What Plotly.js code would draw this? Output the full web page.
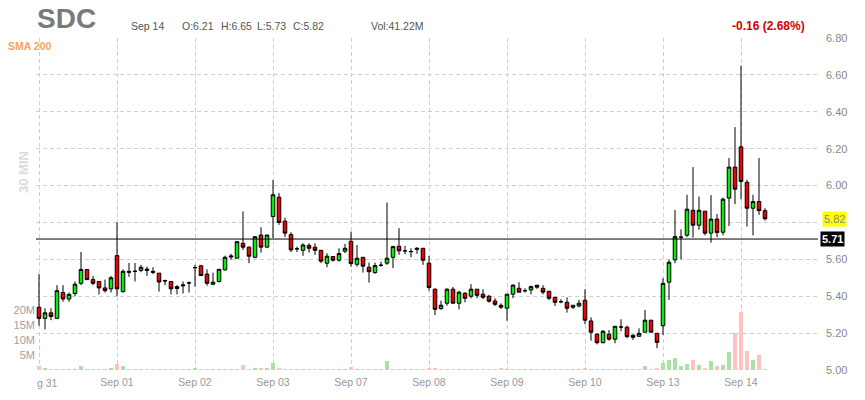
<!DOCTYPE html>
<html>
<head>
<meta charset="utf-8">
<script src="https://cdn.plot.ly/plotly-3.0.1.min.js"></script>
<style>
  html, body { margin: 0; padding: 0; background: #ffffff; }
  #chart { width: 865px; height: 400px; }
</style>
</head>
<body>
<div id="chart"></div>
<script>
// ---------------- DATA ----------------
const ticker = 'SDC';
const dayLabels = ['Aug 31','Sep 01','Sep 02','Sep 03','Sep 07','Sep 08','Sep 09','Sep 10','Sep 13','Sep 14'];
const barsPerDay = 13;

const opens = [
  5.34,5.28,5.31,5.28,5.42,5.385,5.415,5.47,5.545,5.49,5.48,5.445,5.44,
  5.62,5.425,5.535,5.535,5.54,5.547,5.535,5.525,5.485,5.48,5.442,5.462,5.472,
  5.555,5.565,5.52,5.465,5.48,5.543,5.612,5.606,5.687,5.666,5.611,5.732,5.666,
  5.832,5.937,5.807,5.734,5.657,5.649,5.676,5.666,5.649,5.579,5.615,5.595,5.644,
  5.698,5.573,5.611,5.557,5.528,5.568,5.579,5.611,5.671,5.646,5.642,5.66,5.66,
  5.579,5.438,5.333,5.362,5.438,5.362,5.416,5.40,5.438,5.411,5.40,5.374,5.351,
  5.335,5.411,5.443,5.43,5.434,5.46,5.443,5.427,5.394,5.37,5.367,5.34,5.347,
  5.378,5.266,5.194,5.148,5.194,5.167,5.233,5.232,5.188,5.183,5.205,5.27,5.199,
  5.24,5.476,5.597,5.72,5.731,5.866,5.785,5.861,5.742,5.818,5.747,5.932,6.10,
  6.21,6.018,5.877,5.913,5.864
];
const highs = [
  5.52,5.335,5.335,5.46,5.46,5.42,5.48,5.64,5.545,5.51,5.48,5.49,5.51,
  5.80,5.545,5.58,5.58,5.57,5.56,5.557,5.525,5.49,5.48,5.46,5.48,5.48,
  5.57,5.57,5.546,5.528,5.546,5.62,5.63,5.696,5.86,5.67,5.723,5.774,5.732,
  6.03,5.96,5.826,5.747,5.669,5.687,5.687,5.687,5.649,5.633,5.615,5.66,5.684,
  5.75,5.678,5.611,5.582,5.582,5.588,5.908,5.673,5.769,5.673,5.66,5.666,5.66,
  5.619,5.443,5.376,5.443,5.45,5.429,5.422,5.465,5.438,5.438,5.407,5.389,5.362,
  5.411,5.465,5.476,5.443,5.457,5.46,5.46,5.427,5.394,5.384,5.394,5.351,5.38,
  5.438,5.286,5.199,5.217,5.217,5.237,5.275,5.24,5.194,5.226,5.326,5.27,5.199,
  5.498,5.597,5.868,5.763,5.95,6.10,5.94,5.861,5.948,5.846,5.935,6.149,6.317,
  6.65,6.031,5.95,6.149,5.877
];
const lows = [
  5.24,5.22,5.27,5.28,5.37,5.37,5.40,5.46,5.49,5.46,5.41,5.42,5.42,
  5.40,5.42,5.505,5.48,5.53,5.51,5.52,5.425,5.46,5.41,5.41,5.415,5.42,
  5.452,5.512,5.457,5.46,5.474,5.539,5.597,5.606,5.651,5.579,5.606,5.636,5.666,
  5.715,5.787,5.72,5.639,5.639,5.619,5.636,5.624,5.579,5.557,5.588,5.588,5.633,
  5.56,5.56,5.528,5.474,5.522,5.56,5.57,5.552,5.624,5.628,5.611,5.63,5.57,
  5.43,5.298,5.326,5.349,5.362,5.329,5.367,5.389,5.389,5.384,5.365,5.347,5.331,
  5.267,5.389,5.422,5.42,5.41,5.44,5.41,5.379,5.347,5.362,5.311,5.33,5.34,
  5.248,5.159,5.139,5.145,5.159,5.145,5.21,5.172,5.163,5.179,5.205,5.205,5.118,
  5.19,5.38,5.579,5.60,5.72,5.718,5.76,5.73,5.69,5.72,5.73,5.781,5.899,
  5.926,5.778,5.73,5.841,5.81
];
const closes = [
  5.28,5.31,5.29,5.43,5.385,5.41,5.465,5.545,5.49,5.47,5.445,5.43,5.50,
  5.44,5.535,5.53,5.535,5.557,5.54,5.53,5.477,5.483,5.44,5.452,5.457,5.472,
  5.555,5.512,5.47,5.476,5.546,5.611,5.618,5.696,5.666,5.617,5.723,5.666,5.732,
  5.95,5.80,5.742,5.651,5.657,5.678,5.66,5.649,5.59,5.617,5.595,5.631,5.66,
  5.577,5.606,5.563,5.533,5.566,5.568,5.606,5.669,5.646,5.646,5.642,5.655,5.595,
  5.447,5.329,5.351,5.438,5.362,5.422,5.389,5.438,5.405,5.394,5.373,5.356,5.34,
  5.411,5.46,5.422,5.43,5.452,5.449,5.422,5.389,5.367,5.37,5.335,5.351,5.362,
  5.27,5.205,5.148,5.21,5.167,5.237,5.233,5.181,5.177,5.199,5.27,5.205,5.15,
  5.47,5.584,5.723,5.72,5.872,5.785,5.866,5.742,5.818,5.745,5.926,6.10,5.98,
  6.022,5.877,5.913,5.864,5.82
];
// volume in millions of shares
const volumesM = [
  1.3,0.8,0.3,0.5,0.5,0.3,0.3,1.3,0.3,0.3,0.3,0.5,0.8,
  2.0,1.2,0.5,0.3,0.3,0.3,0.3,0.5,0.3,0.5,0.3,0.3,0.5,
  0.8,0.3,0.3,0.3,0.3,0.5,0.3,0.5,1.8,0.5,0.6,0.8,0.8,
  2.2,0.8,0.5,0.5,0.3,0.3,0.3,0.3,0.3,0.3,0.3,0.3,0.3,
  1.1,0.5,0.5,0.3,0.3,0.3,3.0,0.5,0.5,0.3,0.3,0.3,0.5,
  0.8,0.8,0.5,0.3,0.3,0.3,0.3,0.3,0.3,0.3,0.3,0.3,0.8,
  0.3,0.3,0.3,0.3,0.3,0.3,0.3,0.3,0.3,0.3,0.2,0.5,0.2,
  0.8,0.4,0.2,0.2,0.2,0.4,0.2,0.2,0.2,0.2,1.3,0.2,0.8,
  2.3,3.3,4.0,1.4,2.0,3.3,1.7,0.8,3.0,1.4,1.7,6.0,12.3,
  19.4,6.3,3.4,5.0,0.2
];
const priceTicks = [5.0,5.2,5.4,5.6,5.8,6.0,6.2,6.4,6.6,6.8];
const volTicksM = [5,10,15,20];
const refLineValue = 5.71;
const lastPrice = 5.82;
const headerDate = 'Sep 14';
const headerOHLC = ['O:6.21','H:6.65','L:5.73','C:5.82'];
const headerVol = 'Vol:41.22M';
const changeText = '-0.16 (2.68%)';
const indicatorText = 'SMA 200';
const periodText = '30 MIN';

// ---------------- LAYOUT HELPERS ----------------
const W = 865, H = 400;
const PL = 36, PR = 818, PT = 38, PB = 370;
function px(x) { return (x - PL) / (PR - PL); }
function py(y) { return (PB - y) / (PB - PT); }

const idx = opens.map((_, i) => i);
const dayStarts = dayLabels.map((_, d) => d * barsPerDay);
const volumes = volumesM.map(v => v * 1e6);
const volColors = idx.map(i => closes[i] >= opens[i] ? '#abe0a8' : '#ffc2c2');

const volTrace = {
  type: 'bar', x: idx, y: volumes, yaxis: 'y', xaxis: 'x',
  marker: { color: volColors, line: { width: 0 } },
  width: 0.82, hoverinfo: 'skip', showlegend: false
};
const candleTrace = {
  type: 'candlestick', x: idx, open: opens, high: highs, low: lows, close: closes,
  xaxis: 'x', yaxis: 'y2',
  increasing: { line: { color: '#000000', width: 1 }, fillcolor: '#00f000' },
  decreasing: { line: { color: '#000000', width: 1 }, fillcolor: '#ee0000' },
  whiskerwidth: 0, showlegend: false, hoverinfo: 'skip'
};

const gridColor = '#cfcfcf';
const layout = {
  width: W, height: H,
  margin: { l: PL, r: W - PR, t: PT, b: H - PB, pad: 0 },
  paper_bgcolor: '#ffffff', plot_bgcolor: '#ffffff',
  font: { family: 'Arial, "Liberation Sans", sans-serif', color: '#999' },
  showlegend: false,
  boxgap: 0.15,
  bargap: 0,
  xaxis: {
    type: 'linear',
    range: [-0.5, (PR - PL) / 6 - 0.5],
    tickmode: 'array', tickvals: dayStarts,
    ticktext: dayLabels.map((t, i) => i === 0 ? '' : t),
    showgrid: true, gridcolor: gridColor, griddash: '4px,3px', gridwidth: 1,
    zeroline: false, showline: false, ticks: '',
    tickfont: { size: 10.5, color: '#999' },
    ticklabelstandoff: 4,
    rangeslider: { visible: false },
    fixedrange: true
  },
  yaxis: {
    range: [0, (PB - PT) / 3 * 1e6],
    side: 'left',
    tickmode: 'array', tickvals: volTicksM.map(v => v * 1e6), ticktext: volTicksM.map(v => v + 'M'),
    showgrid: false, zeroline: false, showline: false, ticks: '',
    tickfont: { size: 11, color: '#a0a0a0' },
    ticklabelstandoff: 0,
    fixedrange: true
  },
  yaxis2: {
    overlaying: 'y', side: 'right',
    range: [priceTicks[0], priceTicks[priceTicks.length - 1]],
    tickmode: 'array', tickvals: priceTicks,
    // the 5.80 label sits under the last-price marker in the reference
    ticktext: priceTicks.map(v => Math.abs(v - lastPrice) < 0.05 ? '' : v.toFixed(2)),
    showgrid: true, gridcolor: gridColor, griddash: '4px,3px', gridwidth: 1,
    zeroline: false, showline: false, ticks: '',
    tickfont: { size: 11, color: '#888' },
    ticklabelstandoff: 7,
    fixedrange: true
  },
  shapes: [
    { type: 'line', xref: 'paper', x0: 0, x1: 1, yref: 'y2', y0: refLineValue, y1: refLineValue,
      line: { color: '#000000', width: 1 }, layer: 'above' }
  ],
  annotations: [
    { text: '<b>' + ticker + '</b>', xref: 'paper', yref: 'paper', x: px(35), y: py(19),
      xanchor: 'left', yanchor: 'middle', showarrow: false,
      font: { size: 28, color: '#7a7a7a', family: 'Arial, "Liberation Sans", sans-serif' } },
    { text: headerDate, xref: 'paper', yref: 'paper', x: px(129), y: py(26),
      xanchor: 'left', yanchor: 'middle', showarrow: false, font: { size: 10.5, color: '#555' } },
    { text: headerOHLC[0], xref: 'paper', yref: 'paper', x: px(180), y: py(26),
      xanchor: 'left', yanchor: 'middle', showarrow: false, font: { size: 10.5, color: '#555' } },
    { text: headerOHLC[1], xref: 'paper', yref: 'paper', x: px(219), y: py(26),
      xanchor: 'left', yanchor: 'middle', showarrow: false, font: { size: 10.5, color: '#555' } },
    { text: headerOHLC[2], xref: 'paper', yref: 'paper', x: px(255), y: py(26),
      xanchor: 'left', yanchor: 'middle', showarrow: false, font: { size: 10.5, color: '#555' } },
    { text: headerOHLC[3], xref: 'paper', yref: 'paper', x: px(291), y: py(26),
      xanchor: 'left', yanchor: 'middle', showarrow: false, font: { size: 10.5, color: '#555' } },
    { text: headerVol, xref: 'paper', yref: 'paper', x: px(369), y: py(26),
      xanchor: 'left', yanchor: 'middle', showarrow: false, font: { size: 10.5, color: '#555' } },
    { text: '<b>' + changeText + '</b>', xref: 'paper', yref: 'paper', x: px(807), y: py(26),
      xanchor: 'right', yanchor: 'middle', showarrow: false, font: { size: 12, color: '#d40000' } },
    { text: '<b>' + indicatorText + '</b>', xref: 'paper', yref: 'paper', x: px(6), y: py(46),
      xanchor: 'left', yanchor: 'middle', showarrow: false, font: { size: 10.5, color: '#f8a35a' } },
    { text: '<b>' + periodText + '</b>', xref: 'paper', yref: 'paper', x: px(23), y: py(172),
      xanchor: 'center', yanchor: 'middle', showarrow: false, textangle: -90,
      font: { size: 13, color: '#dcdcdc' } },
    { text: 'g 31', xref: 'paper', yref: 'paper', x: px(35), y: py(383),
      xanchor: 'left', yanchor: 'middle', showarrow: false, font: { size: 10.5, color: '#999' } },
    { text: lastPrice.toFixed(2), xref: 'paper', yref: 'y2', x: px(822), y: lastPrice,
      xanchor: 'left', yanchor: 'middle', showarrow: false, bgcolor: '#ffff00', borderpad: 1,
      font: { size: 11, color: '#888' } },
    { text: '<b>' + refLineValue.toFixed(2) + '</b>', xref: 'paper', yref: 'y2', x: px(820), y: refLineValue,
      xanchor: 'left', yanchor: 'middle', showarrow: false, bgcolor: '#000000', borderpad: 1,
      font: { size: 11, color: '#ffffff' } }
  ]
};

Plotly.newPlot('chart', [volTrace, candleTrace], layout, { staticPlot: true, displayModeBar: false });
</script>
</body>
</html>
